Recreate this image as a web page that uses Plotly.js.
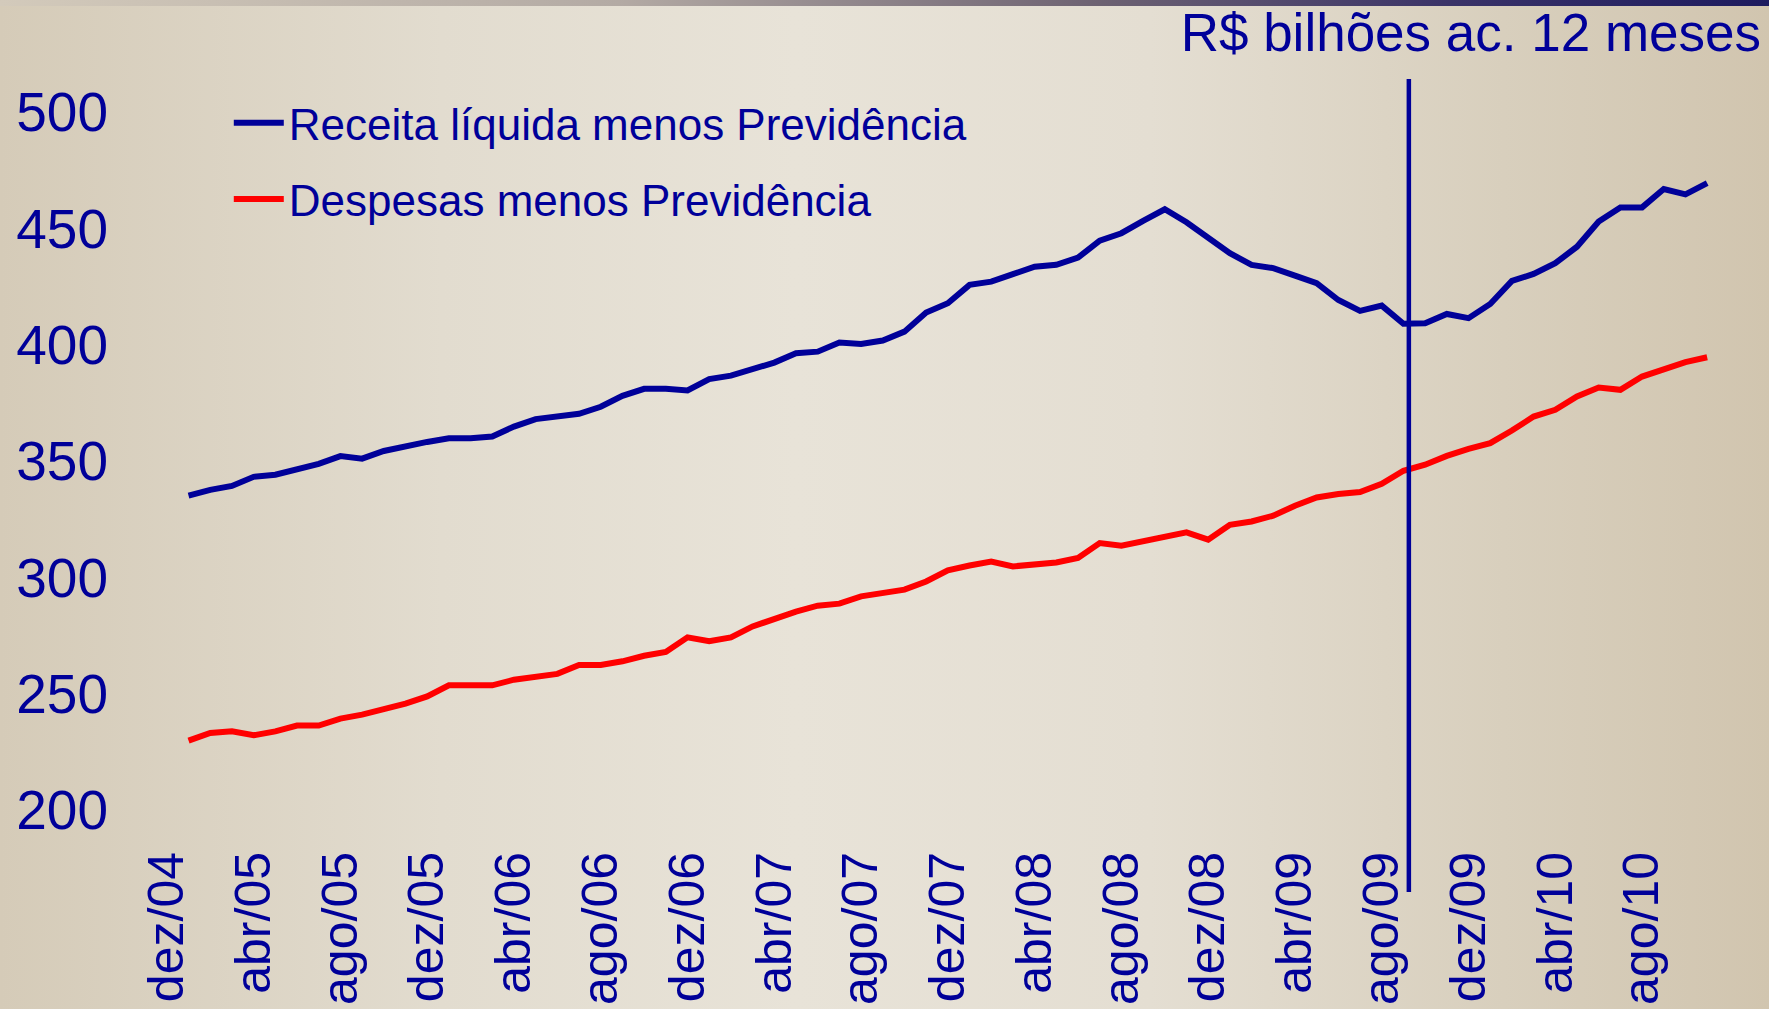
<!DOCTYPE html>
<html>
<head>
<meta charset="utf-8">
<script src="https://cdn.plot.ly/plotly-3.0.1.min.js"></script>
<style>
  html, body { margin: 0; padding: 0; width: 1769px; height: 1009px; overflow: hidden; }
  body { background: linear-gradient(to right, #d5cbb8 0%, #e2dccf 25%, #e8e3d8 45%, #e4ded2 65%, #d8cfbd 85%, #d1c5af 100%); position: relative; }
  #topbar { position: absolute; left: 0; top: 0; width: 1769px; height: 6px;
            background: linear-gradient(to right, #d3cabb 0%, #b3aaa4 35%, #6d6272 62%, #3a3368 82%, #1d1b5f 100%); z-index: 2; }
  #chart { position: absolute; left: 0; top: 0; width: 1769px; height: 1009px; }
</style>
</head>
<body>
<div id="topbar"></div>
<div id="chart"></div>
<script>
// Tick labels (every 4 months, month index 0 = dez/04)
const tickMonths = [0, 4, 8, 12, 16, 20, 24, 28, 32, 36, 40, 44, 48, 52, 56, 60, 64, 68];
const tickLabels = ['dez/04','abr/05','ago/05','dez/05','abr/06','ago/06','dez/06','abr/07','ago/07',
                    'dez/07','abr/08','ago/08','dez/08','abr/09','ago/09','dez/09','abr/10','ago/10'];

// Monthly series, jan/05 .. nov/10 (R$ bilhões, acumulado 12 meses)
const firstMonth = 1;
const receitaMenosPrev = [
  335.1, 337.6, 339.3, 343.2, 344.1, 346.3, 348.8, 352.1, 351.0, 354.3, 356.5, 358.2,
  359.8, 359.8, 360.5, 364.8, 368.0, 368.9, 370.3, 373.3, 378.0, 381.0, 381.0, 380.3,
  385.2, 386.7, 389.7, 392.3, 396.3, 397.0, 400.9, 400.3, 401.8, 405.6, 413.8, 417.8,
  425.7, 427.1, 430.3, 433.5, 434.3, 437.4, 444.7, 447.9, 453.2, 458.2, 452.6, 446.2,
  439.3, 434.3, 432.9, 429.7, 426.4, 419.2, 414.5, 416.8, 409.0, 409.2, 413.2, 411.4,
  417.5, 427.4, 430.4, 435.0, 442.1, 452.9, 459.0, 459.0, 466.9, 464.6, 469.4
];
const despesasMenosPrev = [
  229.8, 233.1, 233.8, 232.1, 233.8, 236.3, 236.3, 239.3, 241.0, 243.4, 245.7, 248.8,
  253.6, 253.6, 253.6, 256.0, 257.4, 258.5, 262.3, 262.3, 263.9, 266.3, 267.9, 274.2,
  272.5, 274.2, 278.9, 282.2, 285.3, 287.8, 288.7, 291.8, 293.3, 294.7, 298.2, 303.0,
  305.1, 306.8, 304.7, 305.7, 306.4, 308.3, 314.7, 313.6, 315.4, 317.6, 319.3, 316.2,
  322.6, 324.0, 326.5, 330.8, 334.3, 335.8, 336.7, 340.2, 345.8, 348.4, 352.2, 355.2,
  357.7, 363.1, 369.1, 372.0, 377.7, 381.6, 380.6, 386.3, 389.6, 392.5, 394.6
];
const seriesNames = ['Receita líquida menos Previdência', 'Despesas menos Previdência'];
const markerMonth = 57.25; // vertical marker just after set/09
const yTicks = [200, 250, 300, 350, 400, 450, 500];

const navy = '#000099';
const xs = receitaMenosPrev.map((_, i) => firstMonth + i);

const traces = [
  { x: xs, y: receitaMenosPrev, name: seriesNames[0], type: 'scatter', mode: 'lines',
    line: { color: navy, width: 6 }, legendgroup: 'a' },
  { x: xs, y: despesasMenosPrev, name: seriesNames[1], type: 'scatter', mode: 'lines',
    line: { color: '#ff0000', width: 6 }, legendgroup: 'b' }
];

const layout = {
  width: 1769, height: 1009,
  paper_bgcolor: 'rgba(0,0,0,0)', plot_bgcolor: 'rgba(0,0,0,0)',
  margin: { l: 156, r: 51, t: 60, b: 199, autoexpand: false },
  font: { family: '"Liberation Sans", Arial, sans-serif', color: navy },
  title: { text: 'R$ bilhões ac. 12 meses', font: { size: 53, color: navy },
           xref: 'container', yref: 'container', x: 0.9955, xanchor: 'right', y: 0.986, yanchor: 'top' },
  xaxis: {
    range: [-0.5, 71.5], tickmode: 'array', tickvals: tickMonths, ticktext: tickLabels,
    tickangle: -90, tickfont: { size: 50, color: navy }, showgrid: false, zeroline: false,
    showline: false, ticks: '', ticklabelstandoff: 31, automargin: false
  },
  yaxis: {
    range: [200, 522.35], tickmode: 'array', tickvals: yTicks,
    tickfont: { size: 55, color: navy }, showgrid: false, zeroline: false,
    showline: false, ticks: '', ticklabelstandoff: 47, automargin: false
  },
  showlegend: true,
  legend: {
    x: 0.0466, xanchor: 'left',
    y: 0.963, yanchor: 'top',
    bgcolor: 'rgba(0,0,0,0)', font: { size: 44, color: navy },
    tracegroupgap: 16, itemwidth: 50
  },
  shapes: [
    { type: 'line', xref: 'x', yref: 'paper', x0: markerMonth, x1: markerMonth,
      y0: -0.1093, y1: 0.9747, line: { color: navy, width: 4.5 } }
  ]
};

Plotly.newPlot('chart', traces, layout, { displayModeBar: false, staticPlot: true });
</script>
</body>
</html>
